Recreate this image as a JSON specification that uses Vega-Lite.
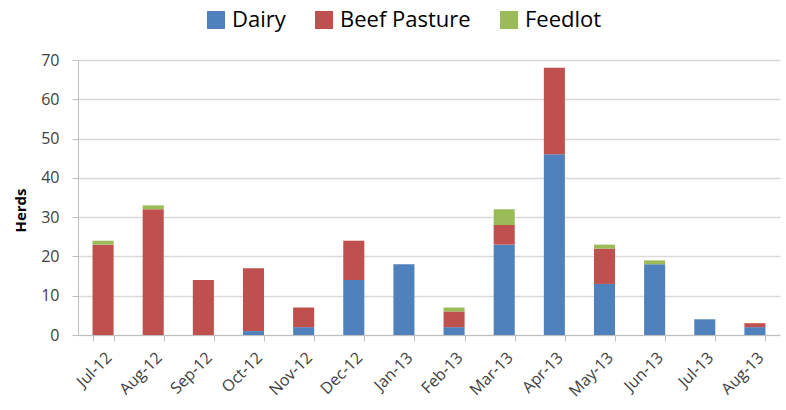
{
  "$schema": "https://vega.github.io/schema/vega-lite/v6.json",
  "autosize": {"type": "none"},
  "width": 702,
  "height": 275,
  "padding": {"left": 78, "top": 60, "right": 6, "bottom": 75},
  "background": "white",
  "data": {"values": [
    {"month": "Jul-12", "type": "Dairy", "k": 1, "herds": 0},
    {"month": "Jul-12", "type": "Beef Pasture", "k": 2, "herds": 23},
    {"month": "Jul-12", "type": "Feedlot", "k": 3, "herds": 1},
    {"month": "Aug-12", "type": "Dairy", "k": 1, "herds": 0},
    {"month": "Aug-12", "type": "Beef Pasture", "k": 2, "herds": 32},
    {"month": "Aug-12", "type": "Feedlot", "k": 3, "herds": 1},
    {"month": "Sep-12", "type": "Dairy", "k": 1, "herds": 0},
    {"month": "Sep-12", "type": "Beef Pasture", "k": 2, "herds": 14},
    {"month": "Sep-12", "type": "Feedlot", "k": 3, "herds": 0},
    {"month": "Oct-12", "type": "Dairy", "k": 1, "herds": 1},
    {"month": "Oct-12", "type": "Beef Pasture", "k": 2, "herds": 16},
    {"month": "Oct-12", "type": "Feedlot", "k": 3, "herds": 0},
    {"month": "Nov-12", "type": "Dairy", "k": 1, "herds": 2},
    {"month": "Nov-12", "type": "Beef Pasture", "k": 2, "herds": 5},
    {"month": "Nov-12", "type": "Feedlot", "k": 3, "herds": 0},
    {"month": "Dec-12", "type": "Dairy", "k": 1, "herds": 14},
    {"month": "Dec-12", "type": "Beef Pasture", "k": 2, "herds": 10},
    {"month": "Dec-12", "type": "Feedlot", "k": 3, "herds": 0},
    {"month": "Jan-13", "type": "Dairy", "k": 1, "herds": 18},
    {"month": "Jan-13", "type": "Beef Pasture", "k": 2, "herds": 0},
    {"month": "Jan-13", "type": "Feedlot", "k": 3, "herds": 0},
    {"month": "Feb-13", "type": "Dairy", "k": 1, "herds": 2},
    {"month": "Feb-13", "type": "Beef Pasture", "k": 2, "herds": 4},
    {"month": "Feb-13", "type": "Feedlot", "k": 3, "herds": 1},
    {"month": "Mar-13", "type": "Dairy", "k": 1, "herds": 23},
    {"month": "Mar-13", "type": "Beef Pasture", "k": 2, "herds": 5},
    {"month": "Mar-13", "type": "Feedlot", "k": 3, "herds": 4},
    {"month": "Apr-13", "type": "Dairy", "k": 1, "herds": 46},
    {"month": "Apr-13", "type": "Beef Pasture", "k": 2, "herds": 22},
    {"month": "Apr-13", "type": "Feedlot", "k": 3, "herds": 0},
    {"month": "May-13", "type": "Dairy", "k": 1, "herds": 13},
    {"month": "May-13", "type": "Beef Pasture", "k": 2, "herds": 9},
    {"month": "May-13", "type": "Feedlot", "k": 3, "herds": 1},
    {"month": "Jun-13", "type": "Dairy", "k": 1, "herds": 18},
    {"month": "Jun-13", "type": "Beef Pasture", "k": 2, "herds": 0},
    {"month": "Jun-13", "type": "Feedlot", "k": 3, "herds": 1},
    {"month": "Jul-13", "type": "Dairy", "k": 1, "herds": 4},
    {"month": "Jul-13", "type": "Beef Pasture", "k": 2, "herds": 0},
    {"month": "Jul-13", "type": "Feedlot", "k": 3, "herds": 0},
    {"month": "Aug-13", "type": "Dairy", "k": 1, "herds": 2},
    {"month": "Aug-13", "type": "Beef Pasture", "k": 2, "herds": 1},
    {"month": "Aug-13", "type": "Feedlot", "k": 3, "herds": 0}
  ]},
  "mark": {"type": "bar"},
  "encoding": {
    "x": {
      "field": "month", "type": "nominal", "sort": null,
      "scale": {"paddingInner": 0.58, "paddingOuter": 0.29},
      "axis": {
        "title": null, "labelAngle": -45, "labelAlign": "right", "labelBaseline": "top",
        "labelFont": "Open Sans", "labelFontSize": 16, "labelColor": "#404040",
        "tickBand": "extent", "tickColor": "#bfbfbf", "tickSize": 6,
        "domainColor": "#bfbfbf", "labelPadding": 8
      }
    },
    "y": {
      "field": "herds", "type": "quantitative", "aggregate": "sum", "stack": "zero",
      "scale": {"domain": [0, 70]},
      "axis": {
        "title": "Herds", "values": [0, 10, 20, 30, 40, 50, 60, 70],
        "titleFont": "Open Sans", "titleFontSize": 15, "titleFontWeight": "bold", "titleColor": "#000000",
        "titlePadding": 12, "titleY": 150,
        "labelFont": "Open Sans", "labelFontSize": 16, "labelColor": "#404040",
        "grid": true, "gridColor": "#d9d9d9", "gridWidth": 1.5,
        "domainColor": "#bfbfbf", "tickColor": "#bfbfbf", "tickSize": 6, "labelPadding": 13
      }
    },
    "color": {
      "field": "type", "type": "nominal",
      "scale": {"domain": ["Dairy", "Beef Pasture", "Feedlot"], "range": ["#4F81BD", "#C0504D", "#9BBB59"]},
      "legend": {
        "title": null, "orient": "none", "direction": "horizontal",
        "legendX": 127, "legendY": -51,
        "symbolType": "square", "symbolSize": 324, "symbolStrokeWidth": 0,
        "labelFont": "Open Sans", "labelFontSize": 22, "labelColor": "#000000",
        "columnPadding": 27, "labelOffset": 5
      }
    },
    "order": {"field": "k", "type": "quantitative"}
  },
  "config": {"view": {"stroke": null}}
}
